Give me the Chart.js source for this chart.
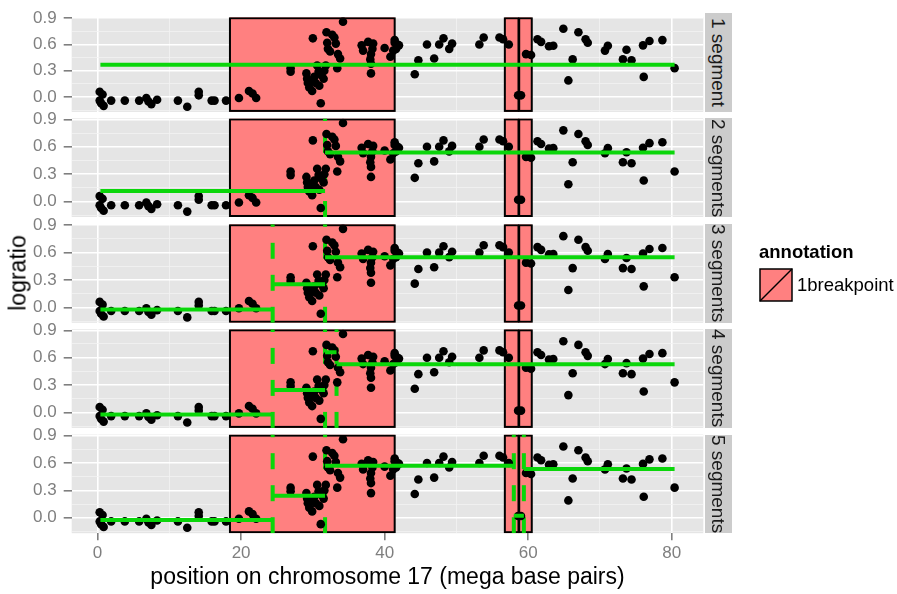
<!DOCTYPE html>
<html lang="en">
<head>
<meta charset="UTF-8">
<title>logratio segmentation, chromosome 17</title>
<script src="https://cdn.jsdelivr.net/npm/chart.js"></script>
<style>
  body { margin: 0; background: #fff; font-family: "Liberation Sans", Arial, sans-serif; }
  #wrap { position: relative; width: 897px; height: 594px; overflow: hidden; }
  #wrap canvas { position: absolute; left: 0; top: 0; }
  .strip { position: absolute; left: 704.5px; width: 27.5px; background: #CCCCCC; color: #1A1A1A;
           font-size: 19px; writing-mode: vertical-rl; text-align: center; line-height: 27.5px; white-space: nowrap; }
  #ylab { position: absolute; left: 18px; top: 273px; font-size: 23px; color: #000;
          transform: translate(-50%, -50%) rotate(-90deg); white-space: nowrap; }
  #legTitle { position: absolute; left: 759px; top: 241px; font-size: 18.5px; font-weight: bold; color: #000; }
  #legKey { position: absolute; left: 759px; top: 268px; }
  #legLabel { position: absolute; left: 797px; top: 274px; font-size: 18.5px; color: #000; }
</style>
</head>
<body>
<div id="wrap">
  <div id="ylab">logratio</div>
  <div id="legTitle">annotation</div>
  <svg id="legKey" width="34" height="34">
    <rect x="1" y="1" width="32" height="32" fill="#FF8080" stroke="#000" stroke-width="1.5"/>
    <line x1="1" y1="33" x2="33" y2="1" stroke="#000" stroke-width="1.5"/>
  </svg>
  <div id="legLabel">1breakpoint</div>
</div>

<script>
  // probe positions (mega base pairs) and their logratio
  const posMb = [
    0.3, 0.7, 0.3, 0.5, 0.85, 1.9, 3.8, 5.8, 6.8, 7.1, 7.5, 8.3, 11.2, 12.5, 14.1, 14.1, 15.9, 16.3, 17.9,
    19.7, 21.1, 21.6, 22.1,
    26.9, 26.9, 30.0, 34.2, 31.9, 32.7, 33.0, 33.2, 32.0, 32.1, 32.4, 33.5, 33.8, 33.4,
    29.1, 29.2, 29.3, 29.5, 29.9, 29.8, 30.2, 30.6, 30.8, 31.2, 31.6, 31.8, 31.5, 30.9, 31.1, 30.4,
    36.8, 37.0, 37.7, 38.4, 38.3, 38.1, 38.0, 38.1, 38.1, 40.0, 40.8, 41.2, 41.4, 41.6, 41.4, 41.8, 42.0,
    44.2, 44.7, 45.9, 46.9, 47.6, 48.2, 49.0, 49.4, 53.2, 53.8, 56.0, 56.5, 57.3, 58.6, 59.0, 59.7, 60.4,
    61.3, 61.8, 62.9, 63.5, 64.9, 66.2, 65.6, 67.0, 68.0, 68.3, 70.7, 71.1, 73.2, 73.7, 74.4,
    76.0, 76.1, 76.9, 78.7, 80.4
  ];
  const logratio = [
    0.06, 0.03, -0.04, -0.07, -0.10, -0.04, -0.04, -0.04, -0.01, -0.05, -0.08, -0.03, -0.04, -0.11, 0.06, 0.02, -0.04, -0.04, -0.04,
    -0.01, 0.07, 0.04, -0.01,
    0.33, 0.29, 0.67, 0.86, 0.74, 0.71, 0.68, 0.61, 0.62, 0.55, 0.52, 0.49, 0.44, 0.33,
    0.27, 0.21, 0.16, 0.11, 0.07, 0.18, 0.23, 0.36, 0.29, 0.25, 0.30, 0.36, 0.21, 0.13, -0.07, 0.16,
    0.59, 0.53, 0.63, 0.61, 0.55, 0.49, 0.43, 0.38, 0.27, 0.56, 0.46, 0.53, 0.62, 0.55, 0.65, 0.60, 0.59,
    0.26, 0.42, 0.60, 0.44, 0.60, 0.67, 0.55, 0.61, 0.60, 0.68, 0.68, 0.66, 0.60, 0.02, 0.02, 0.49, 0.48,
    0.66, 0.63, 0.58, 0.585, 0.78, 0.43, 0.19, 0.74, 0.66, 0.62, 0.53, 0.585, 0.43, 0.54, 0.42,
    0.59, 0.23, 0.64, 0.65, 0.33
  ];

  // facet rows
  const panelLabels = ['1 segment', '2 segments', '3 segments', '4 segments', '5 segments'];
  // segment boundaries and means per model
  const segStart = [
    [0.4],
    [0.4, 31.7],
    [0.4, 24.4, 31.7],
    [0.4, 24.4, 31.7, 33.3],
    [0.4, 24.4, 31.7, 58.0, 59.4]
  ];
  const segEnd = [
    [80.4],
    [31.7, 80.4],
    [24.4, 31.7, 80.4],
    [24.4, 31.7, 33.3, 80.4],
    [24.4, 31.7, 58.0, 59.4, 80.4]
  ];
  const segMean = [
    [0.369],
    [0.116, 0.538],
    [-0.022, 0.252, 0.549],
    [-0.022, 0.245, 0.66, 0.527],
    [-0.025, 0.241, 0.571, 0.022, 0.535]
  ];
  const breakpoints = [
    [],
    [31.7],
    [24.4, 31.7],
    [24.4, 31.7, 33.3],
    [24.4, 31.7, 58.0, 59.4]
  ];
  // annotated regions ("1breakpoint")
  const annoStart = [18.45, 56.75, 58.75];
  const annoEnd = [41.4, 58.65, 60.5];

  const xTickVals = [0, 10, 20, 30, 40, 50, 60, 70, 80];
  const xMajor = [0, 20, 40, 60, 80];
  const yTickVals = [-0.15, 0, 0.15, 0.3, 0.45, 0.6, 0.75, 0.9];
  const yMajor = [0, 0.3, 0.6, 0.9];

  const W = 897, H = 594;
  const panelTop = [13.3, 118.4, 224.2, 329.3, 434.6];
  const panelH = 98.6;
  const plotLeft = 71.7, plotRight = 703.3;
  const xAxisH = H - (panelTop[4] + panelH);
  const green = '#0AD60A';

  const isMajor = (v, list) => list.some(m => Math.abs(m - v) < 1e-6);

  const panelBg = {
    id: 'panelBg',
    beforeDraw(chart) {
      const { ctx, chartArea: a } = chart;
      ctx.save();
      ctx.fillStyle = '#E5E5E5';
      ctx.fillRect(a.left, a.top, a.width, a.height);
      ctx.restore();
    }
  };

  const annoRects = {
    id: 'annoRects',
    beforeDatasetsDraw(chart) {
      const { ctx, chartArea: a, scales: { x } } = chart;
      ctx.save();
      ctx.beginPath();
      ctx.rect(a.left, a.top, a.width, a.height);
      ctx.clip();
      annoStart.forEach((s, k) => {
        const x0 = x.getPixelForValue(s), x1 = x.getPixelForValue(annoEnd[k]);
        ctx.fillStyle = '#FF8080';
        ctx.fillRect(x0, a.top, x1 - x0, a.height);
        ctx.strokeStyle = '#000';
        ctx.lineWidth = 2;
        ctx.strokeRect(x0, a.top + 1, x1 - x0, a.height - 2);
      });
      ctx.restore();
    }
  };

  const wrap = document.getElementById('wrap');

  panelLabels.forEach((label, i) => {
    const last = i === panelLabels.length - 1;

    // strip
    const strip = document.createElement('div');
    strip.className = 'strip';
    strip.style.top = panelTop[i] + 'px';
    strip.style.height = panelH + 'px';
    strip.textContent = label;
    wrap.appendChild(strip);

    const canvas = document.createElement('canvas');
    canvas.width = W; canvas.height = H;
    canvas.style.width = W + 'px'; canvas.style.height = H + 'px';
    wrap.insertBefore(canvas, wrap.firstChild);

    const yMin = -0.169, yMax = 0.911;
    const datasets = [];

    segStart[i].forEach((s, k) => {
      datasets.push({
        data: [{ x: s, y: segMean[i][k] }, { x: segEnd[i][k], y: segMean[i][k] }],
        showLine: true, borderColor: green, borderWidth: 4, borderCapStyle: 'butt',
        pointRadius: 0, order: 0
      });
    });

    datasets.push({
      data: posMb.map((p, k) => ({ x: p, y: logratio[k] })),
      pointRadius: 4.3, pointBackgroundColor: '#000', pointBorderWidth: 0,
      order: 1
    });

    breakpoints[i].forEach(b => {
      datasets.push({
        data: [{ x: b, y: yMin }, { x: b, y: yMax }],
        showLine: true, borderColor: green, borderWidth: 4, borderDash: [16, 16], borderCapStyle: 'butt',
        pointRadius: 0, order: 2
      });
    });

    new Chart(canvas, {
      type: 'scatter',
      data: { datasets },
      options: {
        responsive: false,
        animation: false,
        devicePixelRatio: 1,
        layout: {
          padding: {
            left: 0, right: W - plotRight, top: panelTop[i],
            bottom: last ? 0 : H - (panelTop[i] + panelH)
          }
        },
        plugins: { legend: { display: false }, tooltip: { enabled: false } },
        scales: {
          x: {
            type: 'linear', min: -3.6, max: 84.4,
            afterBuildTicks: s => { s.ticks = xTickVals.map(v => ({ value: v })); },
            afterFit: s => { s.height = last ? xAxisH : 0; },
            border: { display: false },
            grid: {
              color: c => (c.tick && isMajor(c.tick.value, xMajor)) ? '#FFFFFF' : '#F2F2F2',
              lineWidth: c => (c.tick && isMajor(c.tick.value, xMajor)) ? 1.6 : 0.8,
              drawTicks: last,
              tickLength: 7,
              tickWidth: 1.6,
              tickColor: c => (c.tick && isMajor(c.tick.value, xMajor)) ? '#7F7F7F' : 'rgba(0,0,0,0)'
            },
            ticks: {
              display: last,
              autoSkip: false,
              maxRotation: 0,
              padding: 3,
              color: '#7F7F7F',
              font: { family: '"Liberation Sans", Arial, sans-serif', size: 17 },
              callback: v => isMajor(v, xMajor) ? String(v) : ''
            },
            title: {
              display: last,
              text: 'position on chromosome 17 (mega base pairs)',
              color: '#000',
              font: { family: '"Liberation Sans", Arial, sans-serif', size: 23 },
              padding: { top: 0, bottom: 3 }
            }
          },
          y: {
            type: 'linear', min: yMin, max: yMax,
            afterBuildTicks: s => { s.ticks = yTickVals.map(v => ({ value: v })); },
            afterFit: s => { s.width = plotLeft; },
            border: { display: false },
            grid: {
              color: c => (c.tick && isMajor(c.tick.value, yMajor)) ? '#FFFFFF' : '#F2F2F2',
              lineWidth: c => (c.tick && isMajor(c.tick.value, yMajor)) ? 1.6 : 0.8,
              tickLength: 8,
              tickWidth: 1.6,
              tickColor: c => (c.tick && isMajor(c.tick.value, yMajor)) ? '#7F7F7F' : 'rgba(0,0,0,0)'
            },
            ticks: {
              autoSkip: false,
              padding: 7,
              color: '#7F7F7F',
              font: { family: '"Liberation Sans", Arial, sans-serif', size: 17 },
              callback: v => isMajor(v, yMajor) ? v.toFixed(1) : ''
            }
          }
        }
      },
      plugins: [panelBg, annoRects]
    });
  });
</script>
</body>
</html>
